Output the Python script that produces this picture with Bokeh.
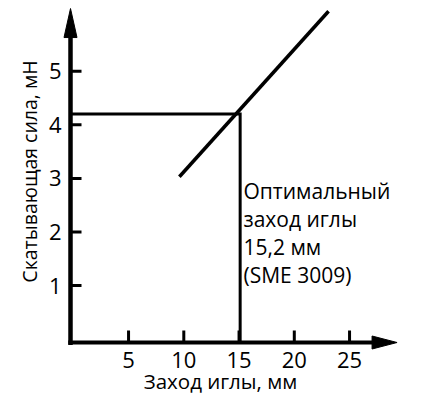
import math
from bokeh.plotting import figure
from bokeh.models import Range1d
from bokeh.core.properties import value
from bokeh.embed import file_html
from bokeh.resources import INLINE

# ---------------- data ----------------
x_ticks = [5, 10, 15, 20, 25]
x_tick_labels = ["5", "10", "15", "20", "25"]
y_ticks = [1, 2, 3, 4, 5]
y_tick_labels = ["1", "2", "3", "4", "5"]
trend_x = [9.6, 23.1]
trend_y = [3.03, 6.12]
opt_x = 15.1
opt_y = 4.2
x_axis_max = 29.3
y_axis_max = 6.17
annot_lines = ["Оптимальный", "заход иглы", "15,2 мм", "(SME 3009)"]
x_title = "Заход иглы, мм"
y_title = "Скатывающая сила, мН"

# ---------------- layout ----------------
W, H = 447, 395
X0 = 72.8      # px of x = 0
SX = 11.05     # px per x unit
Y0 = 338.6     # px of y = 0
SY = 53.575    # px per y unit
TXT_SHIFT = 8  # renderer places alphabetic baseline this much lower


def px_x(page_x):
    return (page_x - X0) / SX


def px_y(page_y):
    return (Y0 - page_y) / SY


p = figure(width=W, height=H,
           x_range=Range1d(px_x(0), px_x(W)),
           y_range=Range1d(px_y(H), px_y(0)),
           x_axis_type=None, y_axis_type=None,
           output_backend="svg", toolbar_location=None, min_border=0)
p.outline_line_color = None
p.background_fill_color = "white"
p.border_fill_color = "white"

ax_x = px_x(70)
ax_y = px_y(342)
FONT = value("Open Sans")

# axis lines
p.line([ax_x, ax_x], [px_y(344.5), y_axis_max - 12 / SY], line_color="black", line_width=4.5)
p.line([px_x(67.8), x_axis_max - 12 / SX], [ax_y, ax_y], line_color="black", line_width=4)

# arrow heads
p.patch([ax_x, ax_x - 6.5 / SX, ax_x + 6.5 / SX],
        [y_axis_max, y_axis_max - 29 / SY, y_axis_max - 29 / SY],
        fill_color="black", line_color="black", line_width=1)
p.patch([x_axis_max, x_axis_max - 25 / SX, x_axis_max - 25 / SX],
        [ax_y, ax_y + 6.5 / SY, ax_y - 6.5 / SY],
        fill_color="black", line_color="black", line_width=1)

# ticks
p.segment(x0=[ax_x] * len(y_ticks), y0=y_ticks,
          x1=[ax_x + 11 / SX] * len(y_ticks), y1=y_ticks,
          line_color="black", line_width=3)
p.segment(x0=x_ticks, y0=[ax_y] * len(x_ticks),
          x1=x_ticks, y1=[ax_y + 12 / SY] * len(x_ticks),
          line_color="black", line_width=3)

# tick labels
p.text(x=[px_x(61)] * len(y_ticks), y=y_ticks, text=y_tick_labels,
       text_align="right", text_baseline="alphabetic", y_offset=8 - TXT_SHIFT,
       text_font=FONT, text_font_size=value("22px"), text_color="black")
p.text(x=x_ticks, y=[ax_y] * len(x_ticks), text=x_tick_labels,
       text_align="center", text_baseline="alphabetic", y_offset=25 - TXT_SHIFT,
       text_font=FONT, text_font_size=value("22px"), text_color="black")

# optimum guide lines
p.line([ax_x, opt_x, opt_x], [opt_y, opt_y, ax_y], line_color="black",
       line_width=3, line_join="miter")

# trend line
p.line(trend_x, trend_y, line_color="black", line_width=3.5)

# annotation
p.text(x=[px_x(243)] * len(annot_lines),
       y=[px_y(b - TXT_SHIFT) for b in (198, 226, 254, 282)],
       text=annot_lines, text_align="left", text_baseline="alphabetic",
       text_font=FONT, text_font_size=value("21px"), text_color="black")

# axis titles
p.text(x=[px_x(220)], y=[px_y(388 - TXT_SHIFT)], text=[x_title], text_align="center",
       text_baseline="alphabetic", text_font=FONT,
       text_font_size=value("20.5px"), text_color="black")
p.text(x=[px_x(37 - TXT_SHIFT)], y=[px_y(171)], text=[y_title], angle=math.pi / 2,
       text_align="center", text_baseline="alphabetic", text_font=FONT,
       text_font_size=value("19.5px"), text_color="black")

open("out.html", "w").write(file_html(p, INLINE))
